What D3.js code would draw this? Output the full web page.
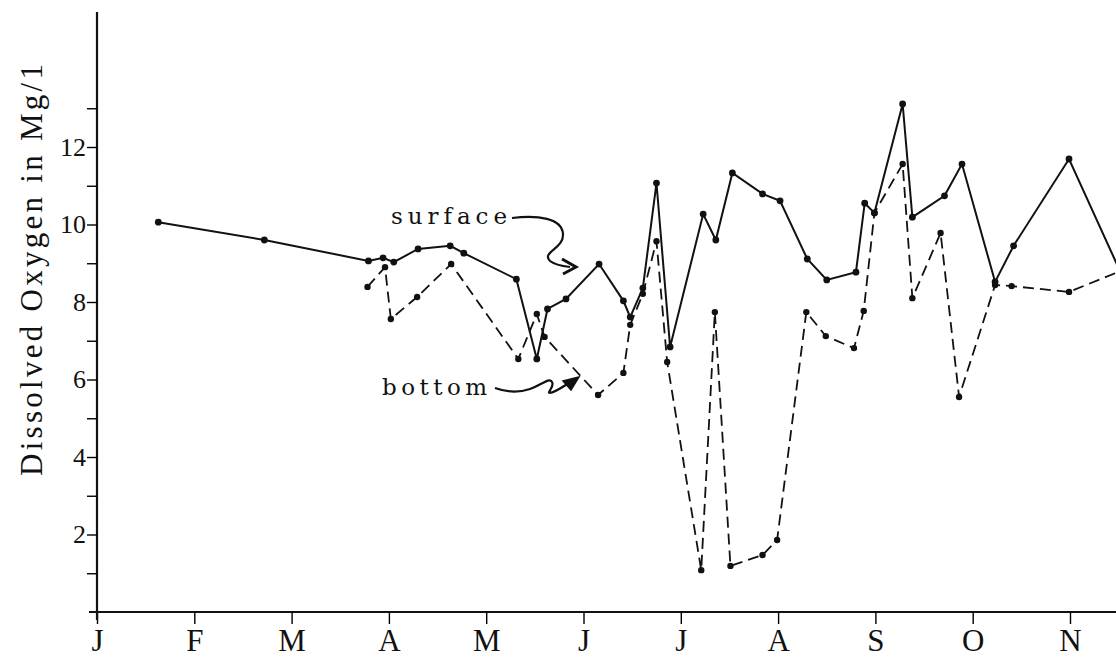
<!DOCTYPE html>
<meta charset="utf-8">
<script src="https://cdnjs.cloudflare.com/ajax/libs/d3/7.8.5/d3.min.js"></script>
<style>
body { margin: 0; background: #fff; }
text { font-family: "Liberation Serif", "DejaVu Serif", serif; fill: #111; }
.note { font-family: "DejaVu Serif", serif; }
</style>
<body>
<script>
// width and height
var w = 1116;
var h = 658;

// months on the x axis (0 = J ... 10 = N)
var months = ["J", "F", "M", "A", "M", "J", "J", "A", "S", "O", "N"];
var yTicks = [1, 2, 3, 4, 5, 6, 7, 8, 9, 10, 11, 12, 13];

// surface readings: month position, mg/l
var surfaceMonth = [0.63, 1.72, 2.79, 2.94, 3.05, 3.30, 3.63, 3.77, 4.31, 4.52, 4.63, 4.82,
  5.16, 5.41, 5.48, 5.61, 5.75, 5.89, 6.23, 6.36, 6.53, 6.84, 7.02, 7.30, 7.50, 7.80,
  7.89, 7.99, 8.28, 8.38, 8.71, 8.89, 9.23, 9.42, 9.99, 10.55];
var surfaceValue = [10.06, 9.60, 9.06, 9.14, 9.03, 9.37, 9.45, 9.26, 8.59, 6.53, 7.82, 8.08,
  8.98, 8.03, 7.61, 8.36, 11.07, 6.84, 10.27, 9.60, 11.33, 10.79, 10.61, 9.11, 8.57, 8.77,
  10.55, 10.30, 13.11, 10.19, 10.74, 11.56, 8.52, 9.45, 11.69, 8.60];

// bottom readings
var bottomMonth = [2.78, 2.96, 3.02, 3.29, 3.64, 4.33, 4.52, 4.60, 5.15, 5.41, 5.48, 5.61,
  5.75, 5.86, 6.21, 6.35, 6.51, 6.84, 6.99, 7.29, 7.49, 7.78, 7.88, 7.99, 8.28, 8.38,
  8.67, 8.86, 9.23, 9.40, 9.99, 10.55];
var bottomValue = [8.39, 8.90, 7.56, 8.13, 8.98, 6.53, 7.69, 7.10, 5.60, 6.17, 7.41, 8.21,
  9.57, 6.45, 1.08, 7.74, 1.19, 1.47, 1.86, 7.74, 7.12, 6.81, 7.77, 10.30, 11.56, 8.10,
  9.78, 5.55, 8.44, 8.41, 8.26, 8.83];

var surface = surfaceMonth.map(function(m, i) { return { m: m, v: surfaceValue[i] }; });
var bottom = bottomMonth.map(function(m, i) { return { m: m, v: bottomValue[i] }; });

var svg = d3.select("body").append("svg")
  .attr("width", w)
  .attr("height", h);

// scales
var xScale = d3.scaleLinear().domain([0, 10]).range([97, 1070]);
var yScale = d3.scaleLinear().domain([0, 12]).range([612, 147]);

svg.append("clipPath").attr("id", "plot")
  .append("rect").attr("x", 97).attr("y", 0).attr("width", w - 97).attr("height", 612);

// axes
var xAxis = d3.axisBottom(xScale)
  .tickValues(d3.range(months.length))
  .tickSize(12)
  .tickFormat(function(d) { return months[d]; });

var gx = svg.append("g")
  .attr("transform", "translate(0,612)")
  .call(xAxis);
gx.select(".domain").attr("d", "M89,0H" + w);
gx.selectAll("line").attr("stroke-width", 1.4);
gx.selectAll("text").attr("y", 39).attr("dy", 0)
  .style("font-size", "31px");

var yAxis = d3.axisLeft(yScale)
  .tickValues(yTicks)
  .tickSize(10)
  .tickFormat(function(d) { return d % 2 === 0 ? d : ""; });

var gy = svg.append("g")
  .attr("transform", "translate(97,0)")
  .call(yAxis);
gy.select(".domain").attr("d", "M0,12V620");
gy.selectAll("line").attr("stroke-width", 1.4);
gy.selectAll("text").attr("x", -11)
  .style("font-size", "26px");

svg.selectAll(".domain").attr("stroke", "#111").attr("stroke-width", 2.2);

// lines
var line = d3.line()
  .x(function(d) { return xScale(d.m); })
  .y(function(d) { return yScale(d.v); });

var plot = svg.append("g").attr("clip-path", "url(#plot)");

plot.append("path").datum(bottom)
  .attr("d", line)
  .attr("fill", "none")
  .attr("stroke", "#111")
  .attr("stroke-width", 1.8)
  .attr("stroke-dasharray", "11,6");

plot.append("path").datum(surface)
  .attr("d", line)
  .attr("fill", "none")
  .attr("stroke", "#111")
  .attr("stroke-width", 2);

// points
plot.selectAll(".sdot").data(surface.filter(function(d) { return d.m <= 10.3; }))
  .enter().append("circle")
  .attr("cx", function(d) { return xScale(d.m); })
  .attr("cy", function(d) { return yScale(d.v); })
  .attr("r", 3.4)
  .attr("fill", "#111");

plot.selectAll(".bdot").data(bottom.filter(function(d) { return d.m <= 10.3; }))
  .enter().append("circle")
  .attr("cx", function(d) { return xScale(d.m); })
  .attr("cy", function(d) { return yScale(d.v); })
  .attr("r", 3.2)
  .attr("fill", "#111");

// y label
svg.append("text")
  .attr("transform", "translate(42,270) rotate(-90)")
  .attr("text-anchor", "middle")
  .attr("textLength", 412)
  .attr("lengthAdjust", "spacing")
  .style("font-size", "31px")
  .text("Dissolved Oxygen in Mg/1");

// annotations
svg.append("text").attr("class", "note")
  .attr("x", 391).attr("y", 224)
  .attr("textLength", 116)
  .attr("lengthAdjust", "spacing")
  .style("font-size", "23px")
  .style("font-weight", "300")
  .text("surface");

svg.append("text").attr("class", "note")
  .attr("x", 382).attr("y", 395)
  .attr("textLength", 105)
  .attr("lengthAdjust", "spacing")
  .style("font-size", "23px")
  .text("bottom");

svg.append("path")
  .attr("d", "M512,218 C538,215 562,218 563,234 C564,249 541,252 550,261 C555,265 562,266 570,267")
  .attr("fill", "none").attr("stroke", "#111").attr("stroke-width", 2.2);
svg.append("path")
  .attr("d", "M562,259 L576,267 L563,274")
  .attr("fill", "none").attr("stroke", "#111").attr("stroke-width", 3);

svg.append("path")
  .attr("d", "M495,388 C506,392 518,393 530,389 C542,385 549,377 552,382 C555,387 546,393 550,393 C556,392 564,386 572,381")
  .attr("fill", "none").attr("stroke", "#111").attr("stroke-width", 2.2);
svg.append("path")
  .attr("d", "M579,377 L563,381 L571,390 Z")
  .attr("fill", "#111").attr("stroke", "#111").attr("stroke-width", 1.5);
</script>
</body>
</html>
